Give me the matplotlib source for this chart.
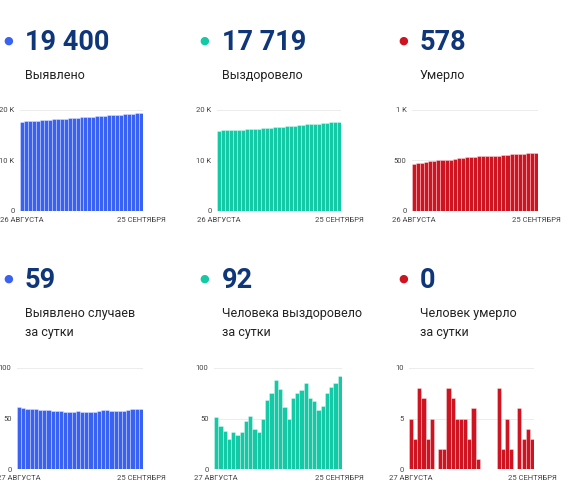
import matplotlib
matplotlib.use("Agg")
import matplotlib.pyplot as plt

plt.rcParams['font.family'] = ['Roboto', 'DejaVu Sans']

# Итоги
totals = ["19 400", "17 719", "578", "59", "92", "0"]
titles = ["Выявлено", "Выздоровело", "Умерло",
          "Выявлено случаев\nза сутки", "Человека выздоровело\nза сутки",
          "Человек умерло\nза сутки"]

# Накопительные (26 августа - 25 сентября)
cases_total = [17672, 17733, 17793, 17852, 17911, 17970, 18028, 18086, 18144, 18201,
               18258, 18315, 18371, 18427, 18483, 18540, 18596, 18652, 18708, 18764,
               18821, 18879, 18937, 18994, 19051, 19108, 19165, 19223, 19282, 19341, 19400]
recovered_total = [15903, 15954, 15997, 16035, 16065, 16102, 16136, 16173, 16221, 16273,
                   16313, 16350, 16400, 16468, 16543, 16631, 16710, 16771, 16821, 16891,
                   16966, 17044, 17129, 17199, 17266, 17324, 17386, 17461, 17542, 17627, 17719]
deaths_total = [470, 475, 478, 486, 493, 496, 501, 501, 503, 505, 513, 520, 525, 530, 535,
                538, 544, 545, 545, 545, 545, 545, 553, 555, 560, 562, 562, 568, 571, 575, 578]

# За сутки (27 августа - 25 сентября)
cases_day = [61, 60, 59, 59, 59, 58, 58, 58, 57, 57, 57, 56, 56, 56, 57,
             56, 56, 56, 56, 57, 58, 58, 57, 57, 57, 57, 58, 59, 59, 59]
recovered_day = [51, 43, 38, 30, 37, 34, 37, 48, 52, 40, 37, 50, 68, 75, 88,
                 79, 61, 50, 70, 75, 78, 85, 70, 67, 58, 62, 75, 81, 85, 92]
deaths_day = [5, 3, 8, 7, 3, 5, 0, 2, 2, 8, 7, 5, 5, 5, 3,
              6, 1, 0, 0, 0, 0, 8, 2, 5, 2, 0, 6, 3, 4, 3]

start_labels = ["26 АВГУСТА", "26 АВГУСТА", "26 АВГУСТА",
                "27 АВГУСТА", "27 АВГУСТА", "27 АВГУСТА"]
end_label = "25 СЕНТЯБРЯ"

yticks = [[0, 10000, 20000], [0, 10000, 20000], [0, 500, 1000],
          [0, 50, 100], [0, 50, 100], [0, 5, 10]]
ytick_labels = [["0", "10 K", "20 K"], ["0", "10 K", "20 K"], ["0", "500", "1 K"],
                ["0", "50", "100"], ["0", "50", "100"], ["0", "5", "10"]]

BLUE = "#3a62f2"
TEAL = "#14c9a5"
RED = "#cf1421"
NAVY = "#0e3679"
colors = [BLUE, TEAL, RED, BLUE, TEAL, RED]
series = [cases_total, recovered_total, deaths_total, cases_day, recovered_day, deaths_day]

W, H = 581, 484
fig = plt.figure(figsize=(W / 100, H / 100), dpi=100)
fig.patch.set_facecolor("white")

# положения в пикселях: (левый край текста, точка, левый/правый край графика)
text_x = [25, 222, 420, 25, 222, 420]
dot_x = [8, 204, 403, 8, 204, 403]
ax_x = [(20, 143), (217, 341), (412, 538), (17, 143), (214, 342), (409, 534)]

for i in range(6):
    row = i // 3
    off = 0 if row == 0 else 238
    # точка и число
    fig.text(dot_x[i] / W, 1 - (off + 41) / H, "●", color=colors[i], fontsize=8,
             ha="center", va="center")
    fig.text(text_x[i] / W, 1 - (off + 50) / H, totals[i], color=NAVY, fontsize=19.5,
             fontweight="bold", ha="left", va="baseline")
    # подпись
    lines = titles[i].split("\n")
    for j, line in enumerate(lines):
        fig.text(text_x[i] / W, 1 - (off + 79 + j * 19) / H, line, color="#222222",
                 fontsize=9, ha="left", va="baseline")

    # график
    if row == 0:
        y_top, y_bot = 110, 211
    else:
        y_top, y_bot = 368, 469
    x0, x1 = ax_x[i]
    ax = fig.add_axes([x0 / W, 1 - y_bot / H, (x1 - x0) / W, (y_bot - y_top) / H])
    vals = series[i]
    n = len(vals)
    ax.bar(range(n), vals, width=1.0, color=colors[i],
           edgecolor=(1, 1, 1, 0.45), linewidth=0.5, zorder=2)
    ax.set_xlim(-0.5, n - 0.5)
    ax.set_ylim(0, yticks[i][-1])
    ax.set_yticks(yticks[i])
    ax.set_yticklabels(ytick_labels[i])
    ax.set_xticks([0, n - 1])
    ax.set_xticklabels([start_labels[i], end_label])
    ax.tick_params(length=0, labelsize=5.5, labelcolor="#444444", pad=4)
    ax.grid(axis="y", color="#ececec", linewidth=0.7, zorder=0)
    for s in ax.spines.values():
        s.set_visible(False)
    ax.set_facecolor("white")

fig.savefig("out.png", dpi=100)
